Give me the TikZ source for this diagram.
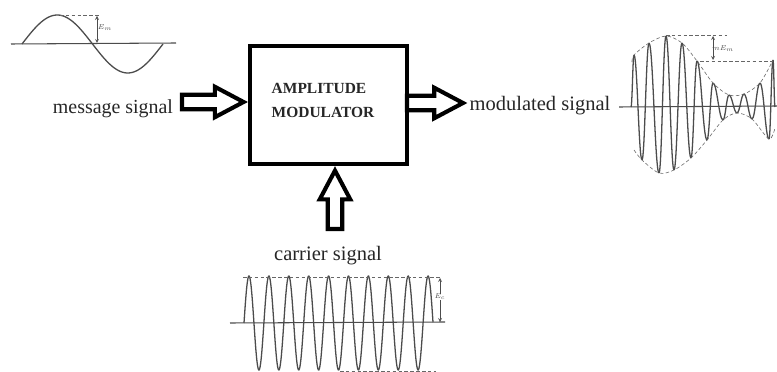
\documentclass[tikz,border=0pt]{standalone}
\usepackage{fontspec}
\setmainfont{Liberation Serif}
\usetikzlibrary{arrows,calc}
\newcommand{\hollowarrow}[2]{\draw[blockline] ($(#1)!6.2pt!90:(#2)$) -- ($(#2)!30pt!(#1)!6.2pt!90:(#2)$) -- ($(#2)!30pt!(#1)!13pt!90:(#2)$) -- ($(#2)!5.5pt!(#1)$) -- ($(#2)!30pt!(#1)!13pt!-90:(#2)$) -- ($(#2)!30pt!(#1)!6.2pt!-90:(#2)$) -- ($(#1)!6.2pt!-90:(#2)$) -- cycle;}
\tikzset{
	blockline/.style={line width=3.5pt,line join=miter,miter limit=10},
	ampbox/.style={draw,line width=3.8pt,outer sep=0pt,minimum width=134pt,minimum height=101pt},
	siglabel/.style={inner sep=0pt,text=black!85},
	wave/.style={line width=1.1pt,black!70},
	axisline/.style={line width=.9pt,black!70},
	guide/.style={densely dashed,line width=.5pt,black!60},
	tick/.style={<->,>=stealth,line width=.5pt,black!70},
	smalllabel/.style={inner sep=0pt,font=\fontsize{6}{7}\selectfont,black!70}
}

\begin{document}
\begin{tikzpicture}[x=0.03cm,y=-0.03cm]
	\clip (0,0) rectangle (777,372);
	\fill[white] (0,0) rectangle (777,372);

	\node[ampbox] (amp) at (328.5,105) {};
	\node[inner sep=0pt,align=left,font=\fontsize{13.2}{20.5}\selectfont\bfseries,text=black!85] (amptext) at (323,100) {AMPLITUDE\\MODULATOR};
	\node[siglabel,font=\fontsize{17}{20}\selectfont] (msg) at (113,109) {message signal};
	\node[siglabel,font=\fontsize{17.5}{20}\selectfont] (modulated) at (540,106) {modulated signal};
	\node[siglabel,font=\fontsize{17.5}{20}\selectfont] (carrier) at (328,256) {carrier signal};
	\coordinate (msgtail) at (182,102);
	\coordinate (msghead) at (amp.west |- msgtail);
	\coordinate (modtail) at (amp.east |- 0,103);
	\coordinate (modhead) at (modulated.west |- modtail);
	\coordinate (cartail) at (335,229);
	\coordinate (carhead) at (cartail |- amp.south);

	\hollowarrow{msgtail}{msghead}
	\hollowarrow{modtail}{modhead}
	\hollowarrow{cartail}{carhead}

	\draw[axisline] (11,44) -- (176,43);
	\draw[wave] plot[domain=22:163,samples=80] (\x,{44-29*sin((\x-22)/141*360)});
	\draw[guide] (60,15) -- (100,15);
	\coordinate (msgtop) at (97,16);
	\coordinate (msgaxis) at (97,43);
	\draw[tick] (msgtop) -- (msgaxis);
	\node[smalllabel] (msgamp) at (105,28) {$E_m$};

	\draw[axisline] (230,323) -- (445,322);
	\draw[wave] plot[domain=244:433,samples=400] (\x,{323-47*sin((\x-244)/19.9*360)});
	\draw[guide] (243,277) -- (440,277);
	\draw[guide] (340,371) -- (436,371);
	\coordinate (cartop) at (440,278);
	\coordinate (caraxis) at (440,322);
	\draw[tick] (cartop) -- (caraxis);
	\node[smalllabel,fill=white] (caramp) at (440,297) {$E_c$};

	\draw[axisline] (619,107) -- (777,106);
	\foreach \xa/\ya/\xb/\yb in {631/107/634/55,634/55/642/160,642/160/649/43,649/43/659/173,659/173/666/36,666/36/674/170,674/170/682/43,682/43/691/158,691/158/697/61,697/61/707/140,707/140/713/83,713/83/723/120,723/120/729/95,729/95/737/113,737/113/744/94,744/94/752/119,752/119/760/83,760/83/769/139,769/139/773/60,773/60/775/107}
		\draw[wave] (\xa,\ya) .. controls ({\xa+.4*(\xb-\xa)},\ya) and ({\xb-.4*(\xb-\xa)},\yb) .. (\xb,\yb);
	\draw[guide] plot[smooth] coordinates {(632,62) (634,55) (649,43) (666,36) (682,43) (697,61) (713,83) (729,95) (744,94) (760,83) (773,60)};
	\draw[guide] plot[smooth] coordinates {(634,150) (642,160) (659,173) (674,170) (691,158) (707,140) (723,120) (737,113) (752,119) (769,139) (775,128)};
	\draw[guide] (666,35) -- (727,35);
	\draw[guide] (700,61) -- (773,61);
	\coordinate (modtop) at (713,36);
	\coordinate (modlow) at (713,60);
	\draw[tick] (modtop) -- (modlow);
	\node[smalllabel] (modamp) at (723,49) {$mE_m$};
\end{tikzpicture}
\end{document}
